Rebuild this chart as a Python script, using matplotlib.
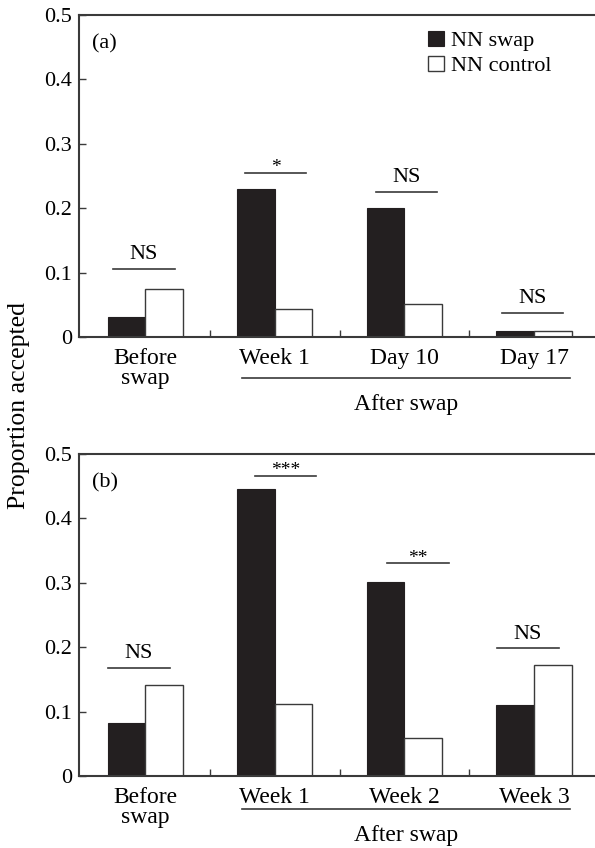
import numpy as np
import matplotlib
matplotlib.use('Agg')
import matplotlib.pyplot as plt
from matplotlib.transforms import blended_transform_factory

plt.rcParams['font.family'] = ['Liberation Serif', 'DejaVu Serif']

# data
labels_a = ['Before\nswap', 'Week 1', 'Day 10', 'Day 17']
swap_a = [0.031, 0.230, 0.200, 0.010]
control_a = [0.075, 0.043, 0.051, 0.010]
sig_a = ['NS', '*', 'NS', 'NS']
sig_y_a = [0.106, 0.255, 0.225, 0.037]

labels_b = ['Before\nswap', 'Week 1', 'Week 2', 'Week 3']
swap_b = [0.082, 0.446, 0.301, 0.110]
control_b = [0.141, 0.112, 0.059, 0.173]
sig_b = ['NS', '***', '**', 'NS']
sig_y_b = [0.168, 0.466, 0.330, 0.198]

yticks = [0, 0.1, 0.2, 0.3, 0.4, 0.5]
ytick_labels = ['0', '0.1', '0.2', '0.3', '0.4', '0.5']

# line extents of significance bars, relative to group centre
span_a = [(-0.25, 0.23), (-0.23, 0.24), (-0.22, 0.25), (-0.25, 0.22)]
span_b = [(-0.285, 0.19), (-0.154, 0.316), (-0.135, 0.34), (-0.285, 0.19)]

BLACK = '#231f20'
EDGE = '#3a3a3a'


def draw_panel(ax, labels, swap, control, sig, sig_y, spans, tag,
               line_off, after_off, legend=False):
    x = np.arange(len(labels))
    w = 0.29
    ax.bar(x - w / 2, swap, w, color=BLACK, edgecolor=BLACK, linewidth=0.8,
           label='NN swap')
    ax.bar(x + w / 2, control, w, color='white', edgecolor=EDGE, linewidth=1.0,
           label='NN control')

    ax.set_xlim(-0.51, 3.47)
    ax.set_ylim(0, 0.5)
    ax.set_yticks(yticks)
    ax.set_yticklabels(ytick_labels)
    ax.set_xticks([0.5, 1.5, 2.5])
    ax.set_xticklabels([])
    ax.set_xticks(x, labels, minor=True)
    ax.tick_params(axis='x', which='minor', length=0, pad=8, labelsize=17)
    ax.tick_params(axis='x', which='major', direction='in', length=5,
                   width=1.0, color=EDGE)
    ax.tick_params(axis='y', direction='in', length=5, width=1.0, color=EDGE,
                   labelsize=16, pad=5)
    for t in ax.get_xticklabels(minor=True):
        t.set_linespacing(0.9)

    for s in ['left', 'bottom', 'top']:
        ax.spines[s].set_color(EDGE)
        ax.spines[s].set_linewidth(1.5)
    ax.spines['right'].set_visible(False)

    # significance bars
    for i in range(len(labels)):
        x0, x1 = x[i] + spans[i][0], x[i] + spans[i][1]
        ax.plot([x0, x1], [sig_y[i], sig_y[i]], color=EDGE, lw=1.2)
        star = sig[i].startswith('*')
        ax.annotate(sig[i], xy=((x0 + x1) / 2, sig_y[i]),
                    xytext=(0, 0.5 if star else 7), textcoords='offset points',
                    ha='center', va='baseline', fontsize=14 if star else 16)

    # "After swap" grouping
    tr = blended_transform_factory(ax.transData, ax.transAxes)
    ax.plot([0.75, 3.28], [line_off, line_off], color=EDGE, lw=1.2,
            transform=tr, clip_on=False)
    ax.text(2.01, after_off, 'After swap', transform=tr, ha='center',
            va='center', fontsize=17)

    ax.text(0.05, 0.91, tag, transform=ax.transAxes, ha='center',
            va='center', fontsize=16)

    if legend:
        ax.legend(loc='upper right', bbox_to_anchor=(0.945, 1.0), frameon=False,
                  fontsize=16, handlelength=0.7, handleheight=0.7,
                  handletextpad=0.3, labelspacing=0.2, borderaxespad=0.3)


fig = plt.figure(figsize=(5.95, 8.48), dpi=100)
ax_a = fig.add_axes([0.1328, 0.6026, 0.8672, 0.3797])
ax_b = fig.add_axes([0.1328, 0.0849, 0.8672, 0.3797])

draw_panel(ax_a, labels_a, swap_a, control_a, sig_a, sig_y_a, span_a, '(a)',
           -0.127, -0.211, legend=True)
draw_panel(ax_b, labels_b, swap_b, control_b, sig_b, sig_y_b, span_b, '(b)',
           -0.102, -0.186)

fig.text(0.032, 0.522, 'Proportion accepted', rotation=90, ha='center',
         va='center', fontsize=18.5)

fig.savefig('out.png', dpi=100)
